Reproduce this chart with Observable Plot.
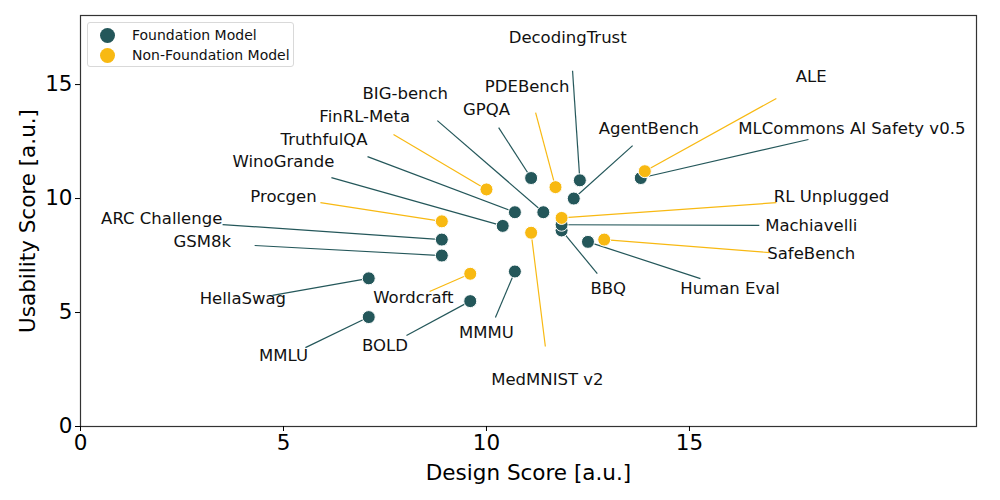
<!DOCTYPE html>
<html>
<head>
<meta charset="utf-8">
<script src="https://cdn.jsdelivr.net/npm/d3@7"></script>
<script src="https://cdn.jsdelivr.net/npm/@observablehq/plot@0.6"></script>
<style>
  html, body { margin: 0; padding: 0; background: white; }
  #wrap { position: relative; width: 1000px; height: 500px; font-family: "DejaVu Sans", sans-serif; }
  #legend { position: absolute; left: 87px; top: 22px; width: 205px; height: 43px;
    border: 1px solid #d9d9d9; border-radius: 3px; background: rgba(255,255,255,0.85); }
  .item { position: absolute; left: 12px; height: 16px; display: flex; align-items: center; font-size: 14px; color: #111; }
  .sw { width: 15px; height: 15px; border-radius: 50%; margin-right: 17px; }
</style>
</head>
<body>
<div id="wrap">
  <div id="chart"></div>
  <div id="legend"></div>
</div>
<script>
const names = ["DecodingTrust","PDEBench","GPQA","BIG-bench","FinRL-Meta","TruthfulQA","WinoGrande","Procgen",
  "ARC Challenge","GSM8k","HellaSwag","MMLU","BOLD","Wordcraft","MMMU","MedMNIST v2",
  "BBQ","Human Eval","SafeBench","Machiavelli","RL Unplugged","MLCommons AI Safety v0.5","ALE","AgentBench"];
const design =    [12.3, 11.7, 11.1, 11.4, 10.0, 10.7, 10.4, 8.9, 8.9, 8.9, 7.1, 7.1, 9.6, 9.6, 10.7, 11.1, 11.85, 12.5, 12.9, 11.85, 11.85, 13.8, 13.9, 12.15];
const usability = [10.8, 10.5, 10.9, 9.4, 10.4, 9.4, 8.8, 9.0, 8.2, 7.5, 6.5, 4.8, 5.5, 6.7, 6.8, 8.5, 8.6, 8.1, 8.2, 8.85, 9.15, 10.9, 11.2, 10.0];
const group = ["F","N","F","F","N","F","F","N","F","F","F","F","F","N","F","N","F","F","N","F","N","F","N","F"];
// annotation text anchor (data units)
const labelX = [12.0, 11.0, 10.0, 8.0, 7.0, 6.0, 5.0, 5.0, 2.0, 3.0, 4.0, 5.0, 7.5, 8.2, 10.0, 11.5, 13.0, 16.0, 18.0, 18.0, 18.5, 19.0, 18.0, 14.0];
const labelY = [17.05, 14.9, 13.9, 14.6, 13.6, 12.6, 11.6, 10.1, 9.1, 8.1, 5.6, 3.1, 3.55, 5.65, 4.1, 2.05, 6.05, 6.05, 7.6, 8.8, 10.1, 13.05, 15.35, 13.05];
// leader-line end (data units)
const leadX = [12.12, 11.21, 10.30, 8.79, 7.71, 7.07, 6.18, 5.91, 3.50, 4.29, 4.73, 5.54, 8.03, 8.60, 10.22, 11.45, 12.73, 15.27, 16.97, 16.72, 17.14, 17.93, 17.14, 13.60];
const leadY = [15.61, 13.77, 13.11, 13.42, 12.81, 11.84, 10.92, 9.82, 8.86, 7.94, 5.75, 3.46, 3.99, 5.92, 4.78, 3.51, 6.71, 6.49, 7.63, 8.82, 9.82, 12.59, 14.39, 12.32];
const groupNames = {F: "Foundation Model", N: "Non-Foundation Model"};
const xTicks = [0, 5, 10, 15];
const yTicks = [0, 5, 10, 15];

const dark = "#24575a";
const yellow = "#f8b912";

const data = names.map((n, i) => ({
  name: n, design: design[i], usability: usability[i], group: groupNames[group[i]],
  tx: labelX[i], ty: labelY[i], lx: leadX[i], ly: leadY[i], order: group[i] === "F" ? 0 : 1
}));
const dotsData = data.slice().sort((a, b) => a.order - b.order);

const chart = Plot.plot({
  width: 1000, height: 500,
  marginLeft: 80, marginRight: 24, marginTop: 15, marginBottom: 74,
  style: {fontFamily: "DejaVu Sans", background: "white", color: "black"},
  x: {domain: [0, 22.07]},
  y: {domain: [0, 18.03]},
  color: {domain: ["Foundation Model", "Non-Foundation Model"], range: [dark, yellow]},
  marks: [
    Plot.link(data, {x1: "design", y1: "usability", x2: "lx", y2: "ly", stroke: "group", strokeWidth: 1.2}),
    Plot.dot(dotsData, {x: "design", y: "usability", fill: "group", r: 6.5, stroke: "white", strokeWidth: 1}),
    Plot.text(data, {x: "tx", y: "ty", text: "name", fontSize: 16.5, fill: "#111", textAnchor: "middle", lineAnchor: "middle"}),
    Plot.frame({stroke: "#333", strokeWidth: 1.2}),
    Plot.axisX({ticks: xTicks, tickSize: 5, tickPadding: 3, fontSize: 21.5, label: "Design Score [a.u.]",
      labelAnchor: "center", labelArrow: "none", labelOffset: 53, fontSize: 21.5}),
    Plot.axisY({ticks: yTicks, tickSize: 5, tickPadding: 3, fontSize: 21.5, label: "Usability Score [a.u.]",
      labelAnchor: "center", labelArrow: "none", labelOffset: 61})
  ]
});
document.getElementById("chart").appendChild(chart);

const legend = document.getElementById("legend");
[["Foundation Model", dark, 4], ["Non-Foundation Model", yellow, 24]].forEach(([t, c, top]) => {
  const it = document.createElement("div");
  it.className = "item";
  it.style.top = top + "px";
  it.innerHTML = `<span class="sw" style="background:${c}"></span><span>${t}</span>`;
  legend.appendChild(it);
});
</script>
</body>
</html>
